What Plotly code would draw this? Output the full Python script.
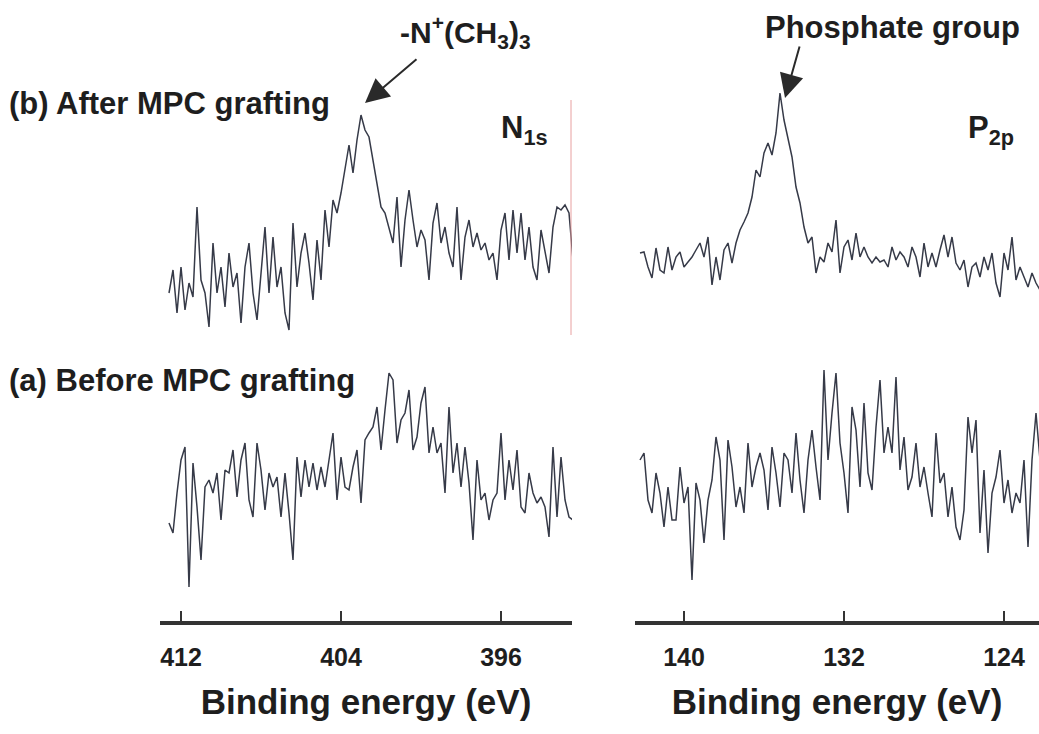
import plotly.graph_objects as go

# ---------------- data (intensity, arbitrary units) ----------------
n1s_start, n1s_step = 412.6, 0.2      # binding energy grid for N1s (eV)
p2p_start, p2p_step = 142.2, 0.2      # binding energy grid for P2p (eV)

n1s_after = [328, 351, 308, 354, 311, 338, 324, 414, 341, 328, 294, 378, 328, 354, 314, 368,
             334, 348, 298, 354, 378, 328, 301, 348, 394, 328, 384, 334, 354, 308, 291, 398,
             334, 368, 388, 358, 321, 381, 341, 411, 374, 421, 408, 428, 451, 476, 448, 481,
             506, 491, 484, 461, 441, 414, 408, 394, 378, 424, 354, 401, 431, 401, 374, 391,
             381, 341, 398, 418, 378, 394, 368, 354, 414, 341, 384, 401, 374, 388, 371, 378,
             361, 368, 341, 391, 408, 361, 411, 368, 408, 361, 394, 354, 341, 391, 368, 348,
             394, 414, 411, 416, 408, 361]

n1s_before = [98, 88, 128, 161, 174, 34, 158, 114, 61, 134, 141, 128, 148, 101, 151, 148,
              171, 124, 161, 178, 121, 104, 178, 151, 111, 148, 134, 144, 104, 148, 108, 61,
              164, 124, 161, 134, 158, 131, 154, 134, 161, 188, 121, 164, 134, 131, 154, 171,
              118, 181, 188, 194, 214, 171, 211, 248, 241, 178, 201, 208, 231, 171, 184, 218,
              234, 168, 194, 168, 178, 128, 214, 148, 178, 134, 174, 138, 81, 161, 121, 128,
              101, 121, 128, 188, 121, 161, 131, 171, 114, 108, 148, 128, 118, 124, 114, 84,
              174, 104, 164, 121, 104, 101]

p2p_after = [368, 369, 354, 343, 373, 351, 348, 374, 351, 364, 369, 354, 359, 364, 371, 378,
             364, 384, 336, 364, 341, 371, 378, 358, 378, 391, 399, 408, 424, 451, 444, 468,
             478, 466, 488, 528, 501, 481, 464, 434, 418, 394, 378, 384, 348, 364, 359, 378,
             369, 401, 348, 374, 381, 361, 388, 364, 374, 364, 358, 364, 359, 361, 354, 374,
             361, 369, 364, 354, 374, 364, 344, 378, 354, 368, 354, 371, 386, 364, 384, 358,
             351, 361, 334, 354, 358, 344, 364, 351, 368, 338, 324, 368, 351, 384, 341, 354,
             344, 334, 348, 338, 331]

p2p_before = [161, 168, 121, 108, 148, 128, 94, 134, 101, 101, 154, 118, 134, 41, 138, 121,
              78, 121, 141, 184, 161, 81, 181, 154, 114, 134, 108, 178, 134, 154, 168, 151,
              111, 174, 148, 114, 168, 161, 128, 188, 141, 108, 161, 191, 154, 121, 251, 161,
              208, 248, 178, 148, 108, 214, 191, 134, 218, 148, 131, 194, 241, 168, 194, 168,
              244, 151, 184, 131, 144, 178, 134, 154, 128, 104, 188, 138, 148, 104, 134, 94,
              81, 111, 204, 168, 201, 88, 151, 68, 128, 144, 171, 118, 141, 108, 128, 118,
              161, 74, 161, 208, 161]

n1s_ticks = [412, 404, 396]
p2p_ticks = [140, 132, 124]

n1s_energy = [round(n1s_start - i * n1s_step, 2) for i in range(len(n1s_after))]
p2p_energy = [round(p2p_start - i * p2p_step, 2) for i in range(len(p2p_after))]

# ---------------- figure ----------------
W, H = 1039, 734
LINE = "#363a48"
TXT = "#1e1e1e"
FONT = "Liberation Sans, Arial, sans-serif"

fig = go.Figure()
for y in (n1s_after, n1s_before):
    fig.add_trace(go.Scatter(x=n1s_energy, y=y, mode="lines", xaxis="x", yaxis="y",
                             line=dict(color=LINE, width=1.5), showlegend=False,
                             hoverinfo="skip"))
for y in (p2p_after, p2p_before):
    fig.add_trace(go.Scatter(x=p2p_energy, y=y, mode="lines", xaxis="x2", yaxis="y2",
                             line=dict(color=LINE, width=1.5), showlegend=False,
                             hoverinfo="skip"))

def px(x):
    return x / W

def py(y):
    return 1 - y / H

axis_common = dict(showline=True, linewidth=4, linecolor="#333333", ticks="inside",
                   ticklen=10, tickwidth=2, tickcolor="#333333", showgrid=False,
                   zeroline=False, mirror=False, ticklabelstandoff=11,
                   tickfont=dict(family=FONT, size=25, color=TXT),
                   title_font=dict(family=FONT, size=35, color=TXT),
                   title_standoff=20)

fig.update_layout(
    width=W, height=H, margin=dict(l=0, r=0, t=0, b=0),
    paper_bgcolor="white", plot_bgcolor="white",
    xaxis=dict(domain=[px(160), px(572)], range=[413.05, 392.45],
               tickvals=n1s_ticks, ticktext=[f"<b>{t}</b>" for t in n1s_ticks],
               title_text="<b>Binding energy (eV)</b>", anchor="y", **axis_common),
    xaxis2=dict(domain=[px(635), 1.0], range=[142.45, 122.25],
                tickvals=p2p_ticks, ticktext=[f"<b>{t}</b>" for t in p2p_ticks],
                title_text="<b>Binding energy (eV)</b>", anchor="y2", **axis_common),
    yaxis=dict(domain=[py(621), py(60)], range=[0, 561], visible=False, anchor="x"),
    yaxis2=dict(domain=[py(621), py(60)], range=[0, 561], visible=False, anchor="x2"),
)

def label(text, x, y, size, xanchor="left"):
    fig.add_annotation(text=text, xref="paper", yref="paper", x=px(x), y=py(y),
                       xanchor=xanchor, yanchor="middle", showarrow=False,
                       font=dict(family=FONT, size=size, color=TXT))

label("<b>(b) After MPC grafting</b>", 7, 104, 31)
label("<b>(a) Before MPC grafting</b>", 7, 381, 31)
label("<b>-N<sup>+</sup>(CH<sub>3</sub>)<sub>3</sub></b>", 398, 32, 30)
label("<b>Phosphate group</b>", 763, 27, 31)
label("<b>N<sub>1s</sub></b>", 499, 130, 31)
label("<b>P<sub>2p</sub></b>", 966, 130, 31)

# arrows
fig.add_annotation(x=402.8, y=518, xref="x", yref="y", text="", showarrow=True,
                   ax=53, ay=-45, arrowhead=2, arrowsize=2.4, arrowwidth=2,
                   arrowcolor="#2a2a2a")
fig.add_annotation(x=134.95, y=523, xref="x2", yref="y2", text="", showarrow=True,
                   ax=15, ay=-53, arrowhead=2, arrowsize=2.4, arrowwidth=2,
                   arrowcolor="#2a2a2a")

# faint red frame edge of N1s panel
fig.add_shape(type="line", xref="paper", yref="paper", x0=px(571), x1=px(571),
              y0=py(335), y1=py(100), line=dict(color="#e8a0a0", width=1))

fig.write_html("out.html", config={"displayModeBar": False},
               post_script="document.body.style.margin='0';")
